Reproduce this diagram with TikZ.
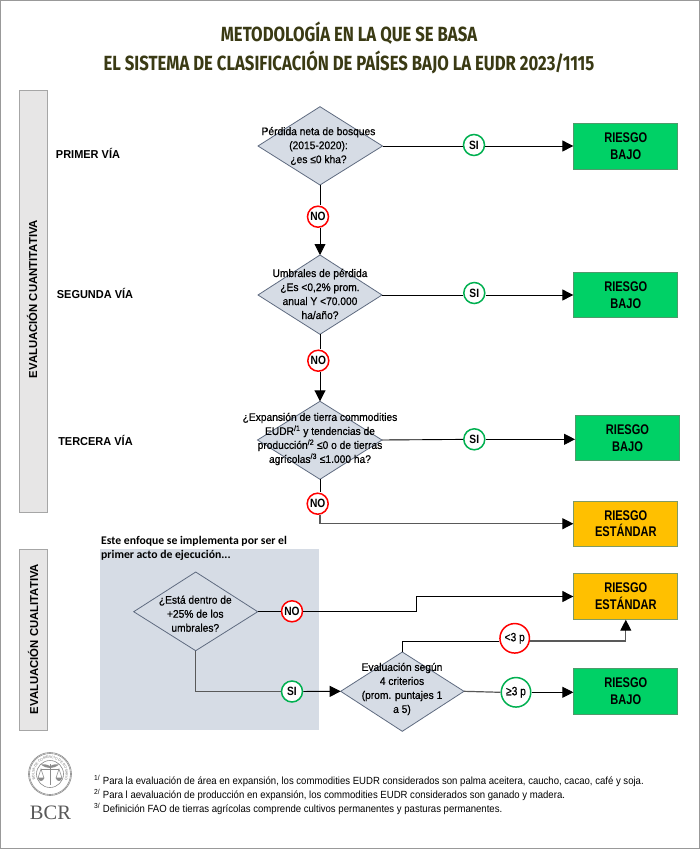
\documentclass[tikz,border=0pt]{standalone}
\usepackage{fontspec}
\setmainfont{Liberation Sans}
\newfontfamily\titlefont{Fira Sans}
\newfontfamily\notefont{Carlito}
\newfontfamily\logofont{Liberation Serif}
\newfontfamily\qfont[FakeBold=0.6]{Liberation Sans}
\usetikzlibrary{shapes.geometric,arrows.meta,decorations.text}
\definecolor{dgreen}{HTML}{00D166}
\definecolor{gborder}{HTML}{4F9A6B}
\definecolor{amber}{HTML}{FFC000}
\definecolor{aborder}{HTML}{7F9A65}
\definecolor{slate}{HTML}{D6DCE5}
\definecolor{slateb}{HTML}{5F6B80}
\definecolor{band}{HTML}{E7E6E6}
\definecolor{bandb}{HTML}{A6A6A6}
\definecolor{okring}{HTML}{00B050}
\definecolor{noring}{HTML}{FF0000}
\definecolor{titlecol}{HTML}{3A3A14}
\newcommand\narrowed[1]{\scalebox{.85}[1]{#1}}
\tikzset{
  x=1pt,y=-1pt,
  ttl/.style={inner sep=0pt,font=\titlefont\fontsize{20.5}{24}\selectfont\bfseries,text=titlecol,xscale=.815},
  lbl/.style={font=\fontsize{11.5}{14}\selectfont\bfseries,inner sep=0pt,xscale=.955},
  risk/.style={draw,line width=.9pt,minimum width=104pt,minimum height=45.5pt,inner sep=0pt,align=center,font=\fontsize{14}{16.7}\selectfont\bfseries},
  lowrisk/.style={risk,fill=dgreen,draw=gborder},
  stdrisk/.style={risk,fill=amber,draw=aborder},
  qtext/.style={align=center,inner sep=0pt,font=\qfont\fontsize{11}{14}\selectfont,xscale=.93},
  ring/.style={circle,draw,fill=white,line width=1.5pt,inner sep=0pt,minimum size=21pt,font=\fontsize{12}{13}\selectfont\bfseries},
  si/.style={ring,draw=okring},
  no/.style={ring,draw=noring},
  wire/.style={draw=black,line width=.9pt},
  gwire/.style={draw=black!65,line width=1.2pt},
  tip/.style={-{Triangle[length=11pt,width=11pt,color=black]}},
  arr/.style={wire,tip},
  garr/.style={gwire,tip},
  sideband/.style={fill=band,draw=bandb,line width=.8pt},
  sidetext/.style={font=\fontsize{11.5}{14}\selectfont\bfseries,rotate=90,inner sep=0pt,xscale=.985},
  notetext/.style={anchor=base west,inner sep=0pt,font=\fontsize{10.4}{12}\selectfont,xscale=.92},
  dia/.style={fill=slate,draw=slateb,line width=.8pt},
  logoline/.style={draw=black!45,line width=.6pt}
}
\begin{document}
\begin{tikzpicture}
\useasboundingbox (0,0) rectangle (700,849);
\fill[white] (0,0) rectangle (700,849);
\draw[draw=black!40,line width=1.4pt] (0.5,0.5) rectangle (699.5,848.5);
% title
\node[ttl] (t1) at (349,33.5) {METODOLOGÍA EN LA QUE SE BASA};
\node[ttl] (t2) at (349,62) {EL SISTEMA DE CLASIFICACIÓN DE PAÍSES BAJO LA EUDR 2023/1115};
% side bands
\path[sideband] (19,90) rectangle (47,512);
\node[sidetext] (b1) at (32,299) {EVALUACIÓN CUANTITATIVA};
\path[sideband] (19.5,549.5) rectangle (47,730.5);
\node[sidetext] (b2) at (33,639) {EVALUACIÓN CUALITATIVA};
\node[lbl] (v1) at (88,153.5) {PRIMER VÍA};
\node[lbl] (v2) at (95,293) {SEGUNDA VÍA};
\node[lbl] (v3) at (95.5,440.5) {TERCERA VÍA};
% shaded panel
\fill[slate] (99.5,549) rectangle (319.3,730);
\node[anchor=north west,inner sep=0pt,align=left,font=\notefont\bfseries\fontsize{11.7}{14}\selectfont] (pn) at (101,536.5) {Este enfoque se implementa por ser el\\primer acto de ejecución...};
% diamonds
\path[dia] (258,146) coordinate (d1w) -- (320,106.7) coordinate (d1t) -- (382.5,146) coordinate (d1e) -- (320,185) coordinate (d1b) -- cycle;
\path[dia] (258,295) coordinate (d2w) -- (320,255) coordinate (d2t) -- (382,295) coordinate (d2e) -- (320,334.3) coordinate (d2b) -- cycle;
\path[dia] (257.5,440) coordinate (d3w) -- (320,401.3) coordinate (d3t) -- (382,440) coordinate (d3e) -- (320,479.3) coordinate (d3b) -- cycle;
\path[dia] (133.7,611.7) coordinate (d4w) -- (195.7,572) coordinate (d4t) -- (257.7,611.7) coordinate (d4e) -- (195.7,650.7) coordinate (d4b) -- cycle;
\path[dia] (340.7,691.3) coordinate (d5w) -- (402.3,652) coordinate (d5t) -- (464,691.3) coordinate (d5e) -- (402.3,731.3) coordinate (d5b) -- cycle;
\node[qtext] (q1) at (318.5,146) {Pérdida neta de bosques\\(2015-2020):\\¿es ≤0 kha?};
\node[qtext] (q2) at (320,294) {Umbrales de pérdida\\¿Es <0,2\% prom.\\anual Y <70.000\\ha/año?};
\node[qtext] (q3) at (320,439) {¿Expansión de tierra commodities\\EUDR\textsuperscript{/1} y tendencias de\\producción\textsuperscript{/2} ≤0 o de tierras\\agrícolas\textsuperscript{/3} ≤1.000 ha?};
\node[qtext] (q4) at (195.3,613.7) {¿Está dentro de\\+25\% de los\\umbrales?};
\node[qtext] (q5) at (402,689) {Evaluación según\\4 criterios\\(prom. puntajes 1\\a 5)};
% risk boxes
\node[lowrisk] (r1) at (625.8,146.3) {\scalebox{.79}[1]{RIESGO}\\\scalebox{.79}[1]{BAJO}};
\node[lowrisk] (r2) at (625.8,295) {\scalebox{.79}[1]{RIESGO}\\\scalebox{.79}[1]{BAJO}};
\node[lowrisk] (r3) at (627.5,438) {\scalebox{.79}[1]{RIESGO}\\\scalebox{.79}[1]{BAJO}};
\node[stdrisk] (r4) at (625.8,523.7) {\scalebox{.79}[1]{RIESGO}\\\scalebox{.79}[1]{ESTÁNDAR}};
\node[stdrisk] (r5) at (625.8,596.5) {\scalebox{.79}[1]{RIESGO}\\\scalebox{.79}[1]{ESTÁNDAR}};
\node[lowrisk] (r6) at (625.8,691.3) {\scalebox{.79}[1]{RIESGO}\\\scalebox{.79}[1]{BAJO}};
% rings
\node[si] (s1) at (474,145) {\narrowed{SI}};
\node[si] (s2) at (474.3,293) {\narrowed{SI}};
\node[si] (s3) at (474.3,439.3) {\narrowed{SI}};
\node[no] (n1) at (318,216.7) {\narrowed{NO}};
\node[no] (n2) at (318.3,360.7) {\narrowed{NO}};
\node[no] (n3) at (317.7,503.7) {\narrowed{NO}};
\node[no] (n4) at (292,611.3) {\narrowed{NO}};
\node[si] (s4) at (292,691.5) {\narrowed{SI}};
\node[no,minimum size=29.5pt,font=\qfont\fontsize{12}{13}\selectfont] (n5) at (514.7,638.3) {\narrowed{<3 p}};
\node[si,minimum size=29.5pt,font=\qfont\fontsize{12}{13}\selectfont] (s5) at (516,692.3) {\narrowed{≥3 p}};
% connectors
\path[wire] (d1e) -- (s1.west |- d1e);
\path[arr] (s1.east |- d1e) -- (r1.west |- d1e);
\path[wire] (d2e) -- (s2.west |- d2e);
\path[arr] (s2.east |- d2e) -- (r2.west |- d2e);
\path[wire] (d3e) -- (s3);
\path[arr] (s3) -- (r3.west |- s3);
\path[wire] (d1b) -- (d1b |- n1.north);
\path[arr] (n1.south -| d1b) -- (d2t);
\path[wire] (d2b) -- (d2b |- n2.north);
\path[arr] (n2.south -| d2b) -- (d3t);
\path[wire] (d3b) -- (d3b |- n3.north);
\path[garr] (n3.south -| d3b) |- (r4.west);
\path[wire] (d4e) -- (n4.west |- d4e);
\path[arr] (n4.east |- d4e) -| (416.3,596.5) -- (r5.west);
\path[gwire] (d4b) |- (s4.west);
\path[arr] (s4) -- (d5w);
\coordinate (c5) at (402.3,641);
\path[wire] (d5t) -- (c5) -- (n5.west |- c5);
\path[garr] (n5.east |- c5) -| (r5.south);
\path[gwire] (d5e) -- (s5.west);
\path[arr] (s5.east) -- (r6.west |- s5);
% footnotes
\node[notetext] (f1) at (94,784.5) {\textsuperscript{1/} Para la evaluación de área en expansión, los commodities EUDR considerados son palma aceitera, caucho, cacao, café y soja.};
\node[notetext] (f2) at (94,798.5) {\textsuperscript{2/} Para l aevaluación de producción en expansión, los commodities EUDR considerados son ganado y madera.};
\node[notetext] (f3) at (94,812.5) {\textsuperscript{3/} Definición FAO de tierras agrícolas comprende cultivos permanentes y pasturas permanentes.};
% logo
\begin{scope}[shift={(50,774)},x=1pt,y=1pt]
\draw[logoline] (0,0) circle[radius=21.5];
\draw[logoline] (0,0) circle[radius=20.5];
\draw[logoline] (0,0) circle[radius=13.5];
\path[decorate,decoration={text along path,text align=center,text={|\color{black!55}\fontsize{3.5}{4}\selectfont|BOLSA DE COMERCIO DE ROSARIO}}]
  (215:15.6) arc[start angle=215,end angle=-35,radius=15.6];
\draw[logoline,line width=.9pt] (0,10) -- (0,-11) (-9,5) -- (9,5);
\draw[logoline] (-9,5) -- (-12,-4) -- (-6,-4) -- cycle (9,5) -- (6,-4) -- (12,-4) -- cycle;
\fill[black!45] (-12,-4) arc[start angle=180,end angle=360,radius=3] -- cycle (6,-4) arc[start angle=180,end angle=360,radius=3] -- cycle;
\fill[black!45] (0,8) .. controls (-4,10) and (-7,10) .. (-9,9.5) .. controls (-6,7) and (-3,6) .. (0,6) .. controls (3,6) and (6,7) .. (9,9.5) .. controls (7,10) and (4,10) .. (0,8) -- cycle;
\end{scope}
\node[inner sep=0pt,text=black!65,font=\logofont\fontsize{20.5}{21}\selectfont] (bcr) at (50.5,812.5) {BCR};
\end{tikzpicture}
\end{document}
